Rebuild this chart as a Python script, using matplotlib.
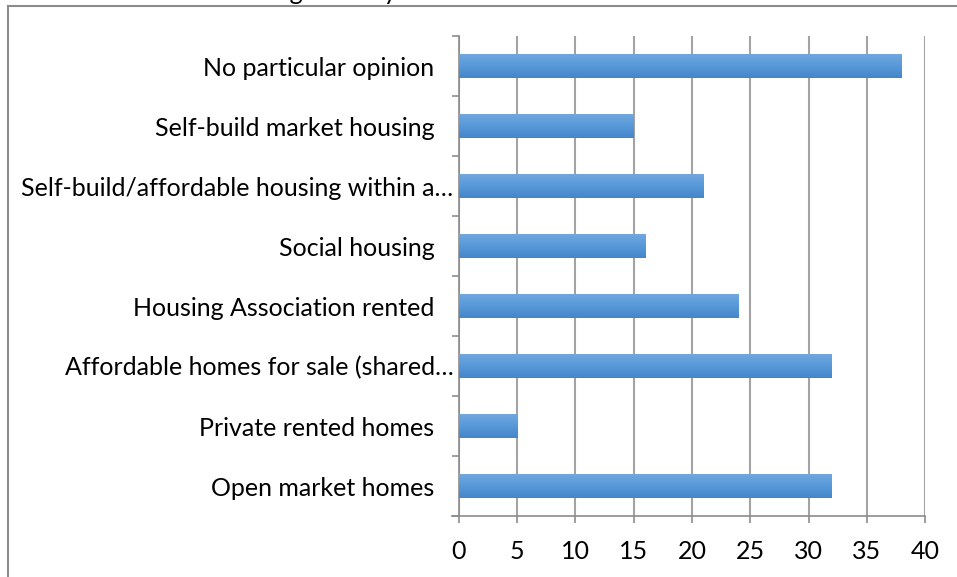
import numpy as np
import matplotlib
matplotlib.use("Agg")
import matplotlib.pyplot as plt
from matplotlib.lines import Line2D
from matplotlib.colors import LinearSegmentedColormap
from matplotlib.transforms import ScaledTranslation

# housing preference responses, bottom to top
categories = [
    "Open market homes",
    "Private rented homes",
    "Affordable homes for sale (shared\u2026",
    "Housing Association rented",
    "Social housing",
    "Self-build/affordable housing within a\u2026",
    "Self-build market housing",
    "No particular opinion",
]
counts = [32, 5, 32, 24, 16, 21, 15, 38]
x_ticks = [0, 5, 10, 15, 20, 25, 30, 35, 40]

plt.rcParams["font.family"] = ["Lato", "DejaVu Sans"]
FS = 18

fig = plt.figure(figsize=(9.57, 5.77), dpi=100)
ax = fig.add_axes([0.4796, 0.1057, 0.4870, 0.8319])

y = np.arange(len(categories))
bars = ax.barh(y, counts, height=0.4, color="#5b9bd5", zorder=3)

# vertical gradient inside each bar, light on top, darker at the bottom
blue_grad = LinearSegmentedColormap.from_list("bar", ["#4486c8", "#5899da", "#72a8de"])
grad = np.linspace(0, 1, 64).reshape(-1, 1)
for b in bars:
    x0, y0 = b.get_x(), b.get_y()
    w, h = b.get_width(), b.get_height()
    im = ax.imshow(grad, cmap=blue_grad, aspect="auto", origin="lower",
                   extent=[x0, x0 + w, y0, y0 + h], zorder=4)
    im.set_clip_path(b)

ax.set_xlim(0, 40)
ax.set_ylim(-0.5, len(categories) - 0.5)
ax.set_xticks(x_ticks)
ax.set_yticks(y)
ax.set_yticklabels(categories)
ax.set_yticks(np.arange(-0.5, len(categories), 1), minor=True)

ax.grid(axis="x", color="#a3a3a3", linewidth=1.5, zorder=0)
for side in ["top", "right"]:
    ax.spines[side].set_visible(False)
for side in ["left", "bottom"]:
    ax.spines[side].set_color("#8c8c8c")
    ax.spines[side].set_linewidth(1.2)

ax.tick_params(axis="y", which="major", length=0, pad=4, labelsize=FS)
ax.tick_params(axis="y", which="minor", length=5, width=1.2, color="#8c8c8c")
ax.tick_params(axis="x", length=5, width=1.2, color="#8c8c8c", pad=12, labelsize=FS)

# full labels keep a trailing gap; the shortened ones run up to the axis
for lab in ax.get_yticklabels():
    if not lab.get_text().endswith("\u2026"):
        lab.set_transform(lab.get_transform() + ScaledTranslation(-0.19, 0, fig.dpi_scale_trans))

# extend the category axis line to meet the bottom boundary tick
ax.plot([-0.6, 0], [-0.5, -0.5], color="#8c8c8c", lw=1.2, clip_on=False, zorder=5)

# chart area border and title (runs off the top edge)
fig.add_artist(Line2D([8 / 957, 8 / 957], [0, 1 - 6 / 577], color="#8c8c8c", lw=1.5))
fig.add_artist(Line2D([8 / 957, 1], [1 - 6 / 577, 1 - 6 / 577], color="#8c8c8c", lw=1.5))
fig.text(212 / 957, 1 - 0.5 / 577, "Housing need by tenure", fontsize=FS, va="baseline")

fig.savefig("out.png", dpi=100)
